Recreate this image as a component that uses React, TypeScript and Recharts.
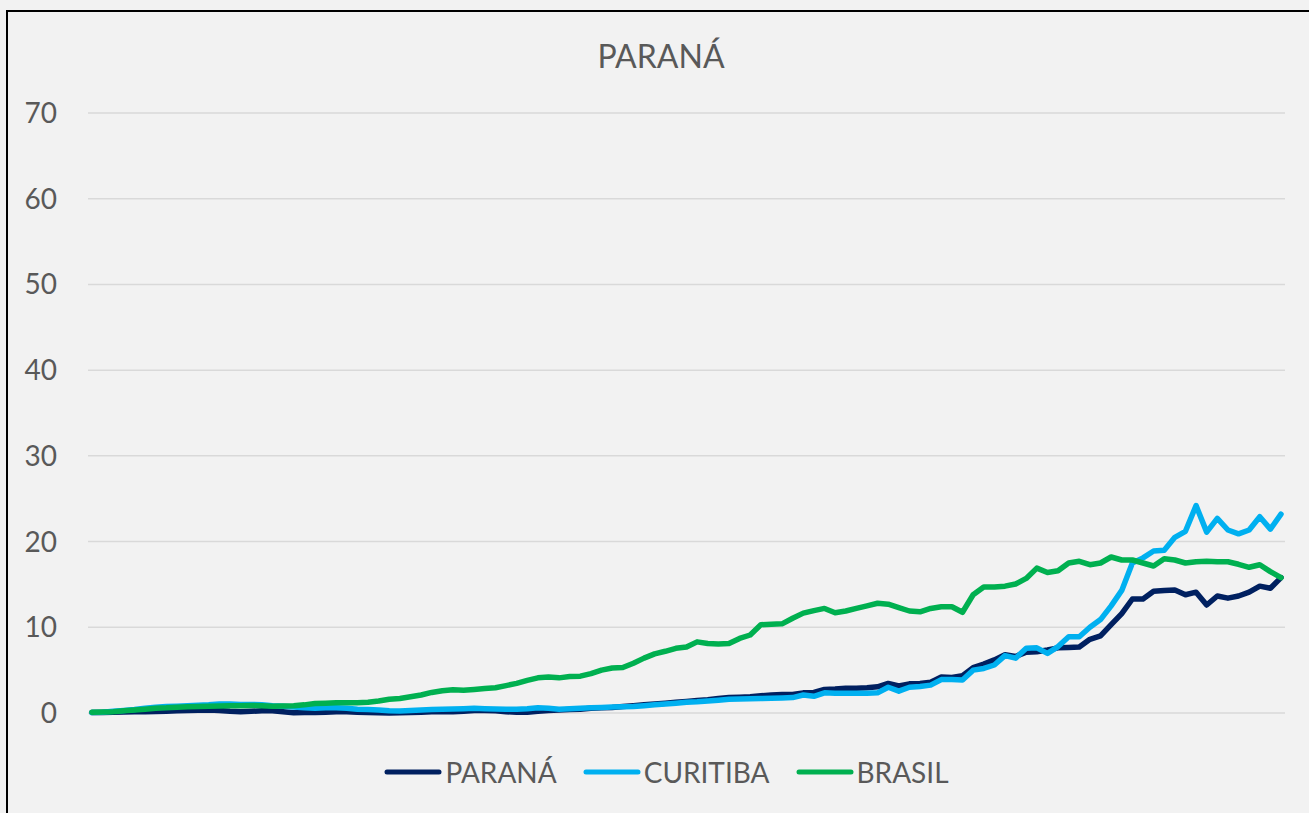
import { LineChart, Line, XAxis, YAxis, CartesianGrid, Legend } from 'recharts'

// weekly rates
const parana = [
  0.05, 0.05, 0.1, 0.12, 0.15, 0.15, 0.18, 0.2, 0.25, 0.3,
  0.33, 0.35, 0.3, 0.2, 0.15, 0.2, 0.25, 0.27, 0.15, 0.02,
  0.05, 0.05, 0.1, 0.15, 0.15, 0.1, 0.05, 0.02, 0.0, 0.02,
  0.05, 0.1, 0.15, 0.15, 0.15, 0.2, 0.3, 0.3, 0.25, 0.15,
  0.08, 0.1, 0.2, 0.3, 0.35, 0.4, 0.45, 0.55, 0.6, 0.65,
  0.75, 0.85, 0.95, 1.05, 1.15, 1.25, 1.35, 1.45, 1.55, 1.7,
  1.8, 1.85, 1.9, 2.0, 2.1, 2.15, 2.15, 2.35, 2.4, 2.75,
  2.8, 2.9, 2.9, 2.95, 3.05, 3.45, 3.15, 3.4, 3.45, 3.6,
  4.2, 4.15, 4.35, 5.3, 5.7, 6.2, 6.8, 6.6, 7.1, 7.15,
  7.35, 7.6, 7.65, 7.7, 8.6, 9.0, 10.3, 11.6, 13.3, 13.3,
  14.2, 14.3, 14.35, 13.8, 14.1, 12.6, 13.65, 13.4, 13.65, 14.1,
  14.8, 14.55, 15.8,
]

const curitiba = [
  0.05, 0.1, 0.2, 0.3, 0.4, 0.55, 0.68, 0.75, 0.8, 0.85,
  0.9, 0.95, 1.05, 1.05, 1.0, 1.0, 0.95, 0.85, 0.8, 0.7,
  0.6, 0.55, 0.6, 0.6, 0.55, 0.45, 0.4, 0.35, 0.25, 0.23,
  0.28, 0.35, 0.4, 0.45, 0.47, 0.5, 0.55, 0.5, 0.47, 0.45,
  0.43, 0.5, 0.6, 0.55, 0.45, 0.5, 0.55, 0.62, 0.65, 0.7,
  0.73, 0.75, 0.85, 0.95, 1.05, 1.15, 1.25, 1.3, 1.4, 1.5,
  1.6, 1.62, 1.65, 1.7, 1.72, 1.75, 1.8, 2.1, 1.95, 2.35,
  2.3, 2.3, 2.3, 2.3, 2.35, 3.0, 2.55, 3.0, 3.1, 3.25,
  3.9, 3.9, 3.85, 5.0, 5.2, 5.6, 6.7, 6.4, 7.55, 7.6,
  6.95, 7.75, 8.9, 8.9, 10.0, 10.9, 12.5, 14.3, 17.5, 18.1,
  18.9, 19.0, 20.5, 21.2, 24.2, 21.1, 22.7, 21.35, 20.9, 21.35,
  22.9, 21.45, 23.2,
]

const brasil = [
  0.1, 0.12, 0.15, 0.25, 0.35, 0.45, 0.55, 0.6, 0.68, 0.73,
  0.76, 0.8, 0.82, 0.85, 0.85, 0.87, 0.85, 0.8, 0.82, 0.85,
  0.95, 1.1, 1.15, 1.2, 1.2, 1.2, 1.25, 1.4, 1.6, 1.7,
  1.9, 2.1, 2.4, 2.6, 2.7, 2.65, 2.75, 2.85, 2.95, 3.2,
  3.45, 3.8, 4.1, 4.2, 4.1, 4.25, 4.3, 4.6, 5.0, 5.25,
  5.3, 5.8, 6.4, 6.9, 7.2, 7.55, 7.7, 8.3, 8.1, 8.05,
  8.1, 8.7, 9.1, 10.3, 10.35, 10.4, 11.05, 11.65, 11.95, 12.2,
  11.7, 11.9, 12.2, 12.5, 12.8, 12.7, 12.3, 11.9, 11.8, 12.2,
  12.4, 12.4, 11.75, 13.8, 14.7, 14.7, 14.8, 15.05, 15.7, 16.9,
  16.4, 16.6, 17.5, 17.7, 17.3, 17.5, 18.2, 17.85, 17.85, 17.5,
  17.15, 18.0, 17.85, 17.5, 17.65, 17.7, 17.65, 17.65, 17.35, 17.0,
  17.3, 16.5, 15.8,
]

const yTicks = [0, 10, 20, 30, 40, 50, 60, 70]
const seriesOrder = ['PARANÁ', 'CURITIBA', 'BRASIL']

// x axis has no labels in the original, just week numbers
const weeks = parana.map((_, i) => i + 1)

const data = weeks.map((w, i) => ({
  week: w,
  parana: parana[i],
  curitiba: curitiba[i],
  brasil: brasil[i],
}))

const FONT = 'Lato, "Open Sans", sans-serif'
const TEXT = '#595959'

function LegendRow({ payload }: any) {
  const items = [...(payload || [])].sort(
    (a: any, b: any) => seriesOrder.indexOf(a.value) - seriesOrder.indexOf(b.value)
  )
  return (
    <div style={{ display: 'flex', justifyContent: 'center', alignItems: 'center', paddingLeft: 50 }}>
      {items.map((p: any) => (
        <div key={p.value} style={{ display: 'flex', alignItems: 'center', marginRight: 26 }}>
          <svg width={58} height={10}>
            <line x1={3} y1={5} x2={55} y2={5} stroke={p.color} strokeWidth={5} strokeLinecap="round" />
          </svg>
          <span style={{ fontFamily: FONT, fontSize: 28, color: TEXT, marginLeft: 3 }}>{p.value}</span>
        </div>
      ))}
    </div>
  )
}

export default function App() {
  return (
    <div style={{ position: 'fixed', left: 0, top: 0, width: 1309, height: 813, overflow: 'hidden', background: '#f2f2f2' }}>
      <div
        style={{
          position: 'absolute',
          left: 6,
          top: 10,
          width: 1320,
          height: 830,
          borderLeft: '2px solid #000',
          borderTop: '2px solid #000',
          boxSizing: 'border-box',
        }}
      />
      <div
        style={{
          position: 'absolute',
          left: 561,
          top: 36,
          width: 200,
          textAlign: 'center',
          fontFamily: FONT,
          fontSize: 32,
          color: TEXT,
        }}
      >
        PARANÁ
      </div>
      <div style={{ position: 'absolute', left: 0, top: 0 }}>
        <LineChart width={1309} height={813} data={data} margin={{ top: 113, right: 24, bottom: 66, left: 0 }}>
          <CartesianGrid horizontal vertical={false} stroke="#d9d9d9" strokeWidth={1.5} />
          <XAxis dataKey="week" hide padding={{ left: 4, right: 4 }} />
          <YAxis
            width={88}
            domain={[0, 70]}
            ticks={yTicks}
            axisLine={false}
            tickLine={false}
            tickMargin={25}
            tick={{ fontFamily: FONT, fontSize: 28, fill: TEXT }}
          />
          <Legend
            content={<LegendRow />}
            wrapperStyle={{ position: 'absolute', left: 0, top: 755, width: 1309 }}
          />
          <Line
            type="linear"
            dataKey="parana"
            name="PARANÁ"
            stroke="#002060"
            strokeWidth={5.5}
            strokeLinejoin="round"
            strokeLinecap="round"
            dot={false}
            activeDot={false}
            isAnimationActive={false}
          />
          <Line
            type="linear"
            dataKey="curitiba"
            name="CURITIBA"
            stroke="#00b0f0"
            strokeWidth={5.5}
            strokeLinejoin="round"
            strokeLinecap="round"
            dot={false}
            activeDot={false}
            isAnimationActive={false}
          />
          <Line
            type="linear"
            dataKey="brasil"
            name="BRASIL"
            stroke="#00b050"
            strokeWidth={5.5}
            strokeLinejoin="round"
            strokeLinecap="round"
            dot={false}
            activeDot={false}
            isAnimationActive={false}
          />
        </LineChart>
      </div>
    </div>
  )
}
